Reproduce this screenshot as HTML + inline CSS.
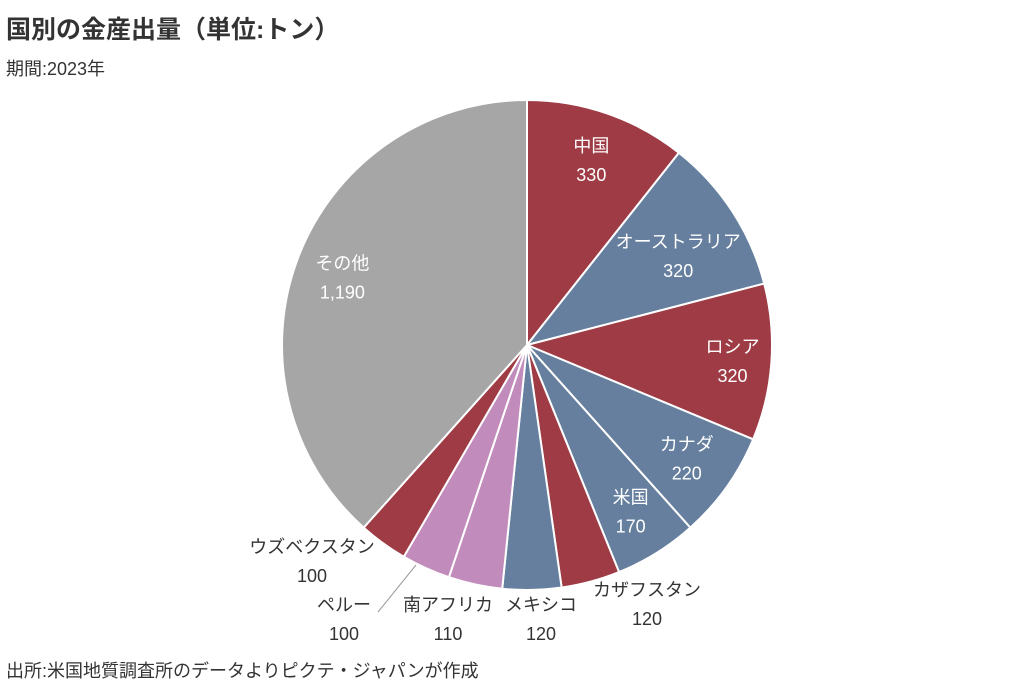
<!DOCTYPE html>
<html><head><meta charset="utf-8">
<style>
body{margin:0;width:1029px;height:698px;background:#fff;font-family:"Liberation Sans","Noto Sans CJK JP",sans-serif;overflow:hidden}
#title{position:absolute;left:6px;top:10px;font-size:25px;font-weight:bold;color:#333}
#sub{position:absolute;left:6px;top:55px;font-size:18px;color:#333}
#src{position:absolute;left:6px;top:657px;font-size:18px;color:#333}
svg{position:absolute;left:0;top:0}
</style></head><body>
<div id="title">国別の金産出量（単位:トン）</div>
<div id="sub">期間:2023年</div>
<div id="src">出所:米国地質調査所のデータよりピクテ・ジャパンが作成</div>
<svg id="chart" width="1029" height="698"></svg>
<script>
const categories=["中国","オーストラリア","ロシア","カナダ","米国","カザフスタン","メキシコ","南アフリカ","ペルー","ウズベクスタン","その他"];
const values=[330,320,320,220,170,120,120,110,100,100,1190];
const valueLabels=["330","320","320","220","170","120","120","110","100","100","1,190"];
const colors=["#9e3b45","#667f9f","#9e3b45","#667f9f","#667f9f","#9e3b45","#667f9f","#c18bbb","#c18bbb","#9e3b45","#a6a6a6"];
const cx=527,cy=345,R=245;
const svg=document.getElementById('chart');
const NS="http://www.w3.org/2000/svg";
const total=values.reduce((a,b)=>a+b,0);
function pt(a,r){return [cx+r*Math.sin(a),cy-r*Math.cos(a)];}
let a0=0;
const outside={5:[647,590],6:[541,605],7:[448,605],8:[344,605],9:[312,547]};
const nudge={1:[-13,18],2:[10,2],10:[-13,-2]};
values.forEach((v,i)=>{
  const a1=a0+v/total*2*Math.PI;
  const [x0,y0]=pt(a0,R),[x1,y1]=pt(a1,R);
  const p=document.createElementNS(NS,'path');
  p.setAttribute('d',`M${cx},${cy}L${x0},${y0}A${R},${R} 0 ${a1-a0>Math.PI?1:0} 1 ${x1},${y1}Z`);
  p.setAttribute('fill',colors[i]);p.setAttribute('stroke','#fff');p.setAttribute('stroke-width','2');
  
  
  svg.appendChild(p);
  const am=(a0+a1)/2;
  let lx,ly,col;
  if(outside[i]){[lx,ly]=outside[i];col='#333';}
  else{const rf=i==10?0.75:0.8;[lx,ly]=pt(am,R*rf);ly-=14;col='#fff';
    if(nudge[i]){lx+=nudge[i][0];ly+=nudge[i][1];}}
  [categories[i],valueLabels[i]].forEach((t,k)=>{
    const tx=document.createElementNS(NS,'text');
    tx.setAttribute('x',lx);tx.setAttribute('y',ly+k*29+6);
    tx.setAttribute('text-anchor','middle');tx.setAttribute('font-size','18');tx.setAttribute('fill',col);
    tx.textContent=t;
    
    
    svg.appendChild(tx);
  });
  a0=a1;
});
const ln=document.createElementNS(NS,'line');
ln.setAttribute('x1',378);ln.setAttribute('y1',612);ln.setAttribute('x2',416);ln.setAttribute('y2',565);
ln.setAttribute('stroke','#999');ln.setAttribute('stroke-width','1');


svg.appendChild(ln);
</script>
</body></html>
